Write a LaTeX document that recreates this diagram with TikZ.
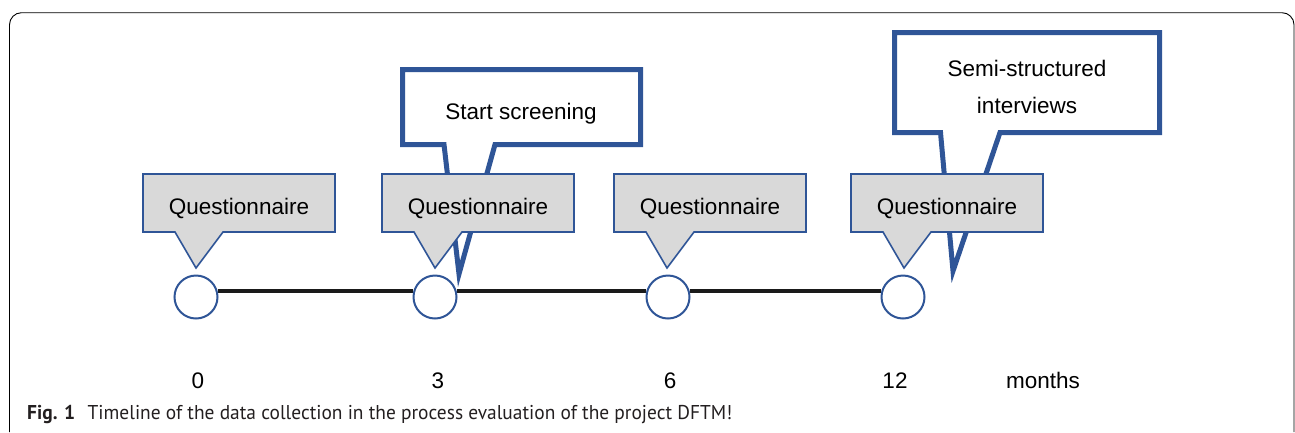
\documentclass[tikz,border=0pt]{standalone}
\usepackage{fontspec}
\setmainfont{Liberation Sans}
\newfontfamily\capfont{PT Sans}
\usetikzlibrary{backgrounds}

\definecolor{callblue}{HTML}{2F5597}
\definecolor{qgray}{HTML}{D9D9D9}
\definecolor{axisline}{HTML}{1A1A1A}
\definecolor{captext}{HTML}{231F20}

\tikzset{
  framebox/.style={draw=black, line width=0.9pt, rounded corners=12pt},
  qcallout/.style={fill=qgray, draw=callblue, line width=1.6pt, line join=miter},
  bigcallout/.style={fill=white, draw=callblue, line width=5pt, line join=miter, miter limit=10},
  qtext/.style={font=\fontsize{22.5}{27}\selectfont, inner sep=0pt, anchor=base},
  bigtext/.style={font=\fontsize{22.5}{37}\selectfont, inner sep=0pt, align=center},
  milestone/.style={circle, draw=callblue, fill=white, line width=2pt, minimum size=43pt, inner sep=0pt},
  timeline/.style={draw=axisline, line width=4.5pt},
  monthlabel/.style={font=\fontsize{22.5}{27}\selectfont, inner sep=0pt, anchor=base},
  captionpart/.style={inner sep=0pt, anchor=base west, text=captext}
}

\begin{document}
\begin{tikzpicture}[x=1pt, y=-1pt]
\useasboundingbox (0,0) rectangle (1295,432);

% open figure frame
\draw[framebox] (9.5,432) -- (9.5,12.7) -- (1294,12.7) -- (1294,432);

% large callouts, drawn first so the questionnaire boxes sit on top
\draw[bigcallout] (444,144.5) -- (402.5,144.5) -- (402.5,69.5) -- (640.5,69.5)
  -- (640.5,144.5) -- (495,144.5) -- (459,274) -- cycle;
\node[bigtext, anchor=base] (screen) at (521,119.3) {Start screening};

\draw[bigcallout] (940.5,132.5) -- (894.5,132.5) -- (894.5,32.5) -- (1159.5,32.5)
  -- (1159.5,132.5) -- (1000,132.5) -- (953,271) -- cycle;
\node[bigtext] (interviews) at (1027,87) {Semi-structured\\interviews};

% questionnaire callouts, one per milestone
\foreach \l/\n in {143/q0, 382/q3, 614/q6, 851/q12} {
  \filldraw[qcallout] (\l,174) -- (\l+192,174) -- (\l+192,232) -- (\l+80,232)
    -- (\l+53,268) -- (\l+32,232) -- (\l,232) -- cycle;
  \node[qtext] (\n) at (\l+96,214) {Questionnaire};
}

% milestones on the timeline
\node[milestone] (c0)  at (196,297) {};
\node[milestone] (c3)  at (435,297) {};
\node[milestone] (c6)  at (668,297) {};
\node[milestone] (c12) at (903,297) {};

\begin{scope}[on background layer]
  \draw[timeline] (c0.16) -- (c3.164);
  \draw[timeline] (c3.16) -- (c6.164);
  \draw[timeline] (c6.16) -- (c12.164);
\end{scope}

% month labels
\node[monthlabel] (m0)  at (198,388) {0};
\node[monthlabel] (m3)  at (438,388) {3};
\node[monthlabel] (m6)  at (670,388) {6};
\node[monthlabel] (m12) at (895,388) {12};
\node[monthlabel] (mu)  at (1043,388) {months};

% caption
\node[captionpart] (figno) at (27,419.5)
  {\resizebox{48pt}{\height}{\capfont\bfseries\fontsize{20}{22}\selectfont Fig. 1}};
\node[captionpart] (captxt) at (87.5,419.5)
  {\resizebox{644.5pt}{\height}{\capfont\fontsize{20}{22}\selectfont Timeline of the data collection in the process evaluation of the project DFTM!}};
\end{tikzpicture}
\end{document}
